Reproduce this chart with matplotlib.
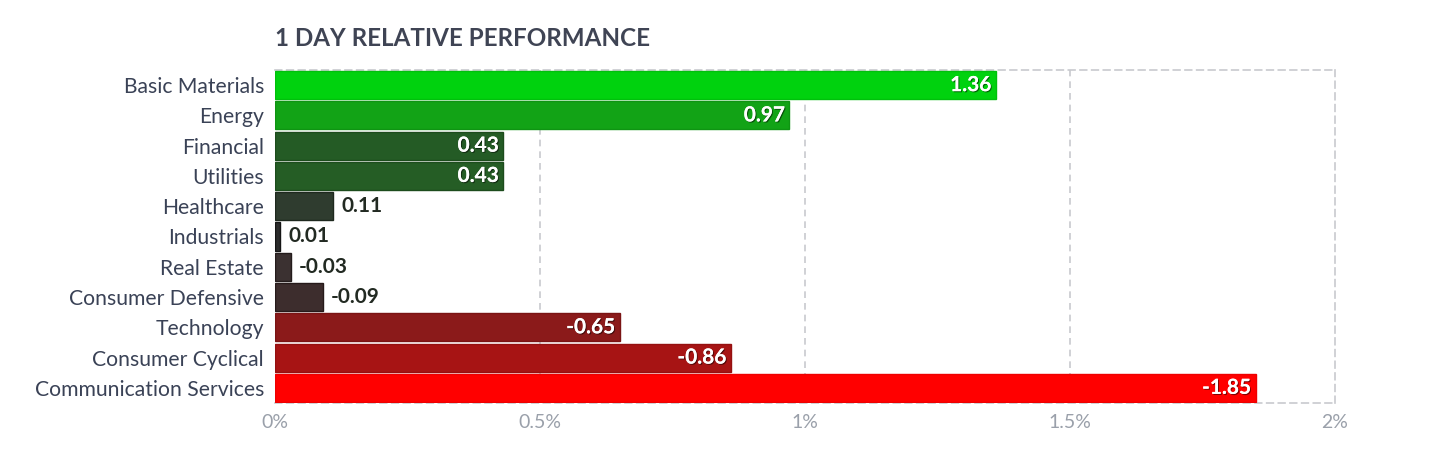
import matplotlib
matplotlib.use("Agg")
import matplotlib.pyplot as plt
import matplotlib.patheffects as pe
from matplotlib.ticker import FixedLocator

categories = ["Basic Materials", "Energy", "Financial", "Utilities", "Healthcare",
              "Industrials", "Real Estate", "Consumer Defensive", "Technology",
              "Consumer Cyclical", "Communication Services"]
values = [1.36, 0.97, 0.43, 0.43, 0.11, 0.01, -0.03, -0.09, -0.65, -0.86, -1.85]
colors = ["#00d20e", "#12a316", "#245b25", "#255d25", "#2f3c2f", "#2c2c2c",
          "#3b3131", "#3d2d2d", "#8b1a1a", "#a71414", "#ff0000"]
edges = ["#00c00c", "#0f9413", "#1c4c1c", "#1c4c1c", "#1e281e", "#151515",
         "#241c1c", "#261a1a", "#7a1414", "#951010", "#ee0000"]
xticks = [0, 0.5, 1, 1.5, 2]
xticklabels = ["0%", "0.5%", "1%", "1.5%", "2%"]

plt.rcParams['font.family'] = ['Lato', 'DejaVu Sans']

fig = plt.figure(figsize=(14.56, 4.58), dpi=100)
ax = fig.add_axes([275/1456, 1-403/458, (1335-275)/1456, (403-70)/458])

n = len(categories)
ypos = list(range(n))
lengths = [abs(v) for v in values]
ax.barh(ypos, lengths, height=0.93, color=colors, edgecolor=edges, linewidth=1, zorder=3)

ax.set_xlim(0, 2)
ax.set_ylim(n - 0.5, -0.5)
ax.set_yticks(ypos)
ax.set_yticklabels(categories, fontsize=15.2, color="#3a4256")
ax.xaxis.set_major_locator(FixedLocator(xticks))
ax.set_xticklabels(xticklabels, fontsize=14, color="#9aa0aa")
ax.tick_params(axis='both', length=0, pad=8)
ax.tick_params(axis='y', pad=8)

grid_col = "#c8c9ce"
for x in xticks[1:-1]:
    ax.axvline(x, color=grid_col, lw=1.2, ls=(0, (4, 3)), zorder=1)
for side in ["top", "right", "bottom"]:
    ax.spines[side].set_color(grid_col)
    ax.spines[side].set_linestyle((0, (4, 3)))
    ax.spines[side].set_linewidth(1.2)
ax.spines["left"].set_visible(False)

for y, v, L in zip(ypos, values, lengths):
    txt = f"{v:.2f}"
    if L > 0.3:
        ax.annotate(txt, (L, y), xytext=(-3, 0), textcoords="offset points",
                    ha="right", va="center", fontsize=15, fontweight="bold",
                    color="white", zorder=4,
                    path_effects=[pe.withSimplePatchShadow(offset=(0.8, -0.8), shadow_rgbFace="black", alpha=0.5),
                                  pe.Normal()])
    else:
        ax.annotate(txt, (L, y), xytext=(6, 0), textcoords="offset points",
                    ha="left", va="center", fontsize=15, fontweight="bold",
                    color="#222a22", zorder=4)

fig.text(275/1456, 1-38/458, "1 DAY RELATIVE PERFORMANCE", fontsize=17.4,
         fontweight="bold", color="#3f4454", ha="left", va="center")

fig.savefig("out.png", dpi=100, facecolor="white")
